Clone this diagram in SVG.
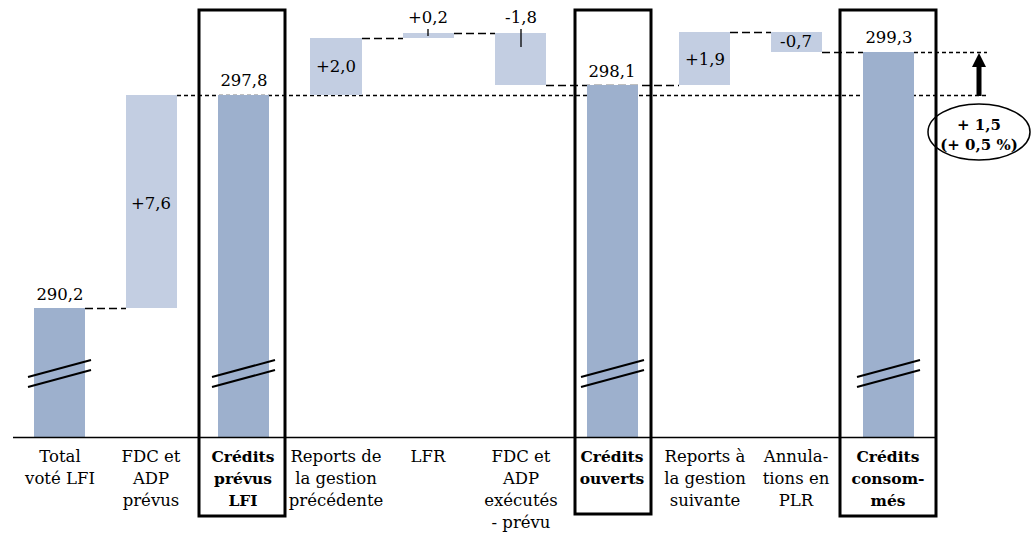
<svg xmlns="http://www.w3.org/2000/svg" width="1032" height="546" viewBox="0 0 1032 546" font-family="DejaVu Serif, serif">
<style>
.dark{fill:#9db0cd}
.light{fill:#c3cee2}
.box{fill:none;stroke:#000;stroke-width:3}
.conn{stroke:#000;stroke-width:1.3;stroke-dasharray:8 4;fill:none}
.ref{stroke:#000;stroke-width:1.3;stroke-dasharray:4 3;fill:none}
.tick{stroke:#000;stroke-width:1.3}
.brk{stroke:#000;stroke-width:2}
text{font-size:16.5px;fill:#000;text-anchor:middle}
.b{font-weight:bold;font-size:15.5px}
.sm{font-size:15px;font-weight:bold}
</style>
<rect width="1032" height="546" fill="#fff"/>
<g id="connectors">
<line class="ref" x1="177" y1="95.5" x2="987" y2="95.5"/>
<line class="ref" x1="914" y1="52.5" x2="987" y2="52.5"/>
<line class="conn" x1="85" y1="308.5" x2="126" y2="308.5"/>
<line class="conn" x1="362" y1="38.5" x2="403" y2="38.5"/>
<line class="conn" x1="454" y1="33.5" x2="495" y2="33.5"/>
<line class="conn" x1="546" y1="85.5" x2="679" y2="85.5"/>
<line class="conn" x1="730" y1="32.5" x2="771" y2="32.5"/>
<line class="conn" x1="822" y1="52.5" x2="863" y2="52.5"/>
<line x1="979" y1="96" x2="979" y2="64" stroke="#000" stroke-width="5"/>
<polygon points="979,53 972,67 986,67" fill="#000"/>
</g>
<g id="n1">
<rect class="dark" x="34" y="308" width="51" height="129"/>
<line class="brk" x1="28" y1="377" x2="91" y2="360"/>
<line class="brk" x1="28" y1="387" x2="91" y2="370"/>
<text x="60" y="300">290,2</text>
<text x="60" y="462">Total</text>
<text x="60" y="484">voté LFI</text>
</g>
<g id="n2">
<rect class="light" x="126" y="95" width="51" height="213"/>
<text x="151" y="209">+7,6</text>
<text x="151" y="462">FDC et</text>
<text x="151" y="484">ADP</text>
<text x="151" y="506">prévus</text>
</g>
<g id="n3">
<rect class="dark" x="218" y="95" width="51" height="342"/>
<line class="brk" x1="212" y1="377" x2="275" y2="360"/>
<line class="brk" x1="212" y1="387" x2="275" y2="370"/>
<text x="244" y="86">297,8</text>
<text class="b" x="243" y="462">Crédits</text>
<text class="b" x="243" y="484">prévus</text>
<text class="b" x="243" y="506">LFI</text>
<rect class="box" x="199" y="10" width="86" height="506"/>
</g>
<g id="n4">
<rect class="light" x="310" y="38" width="52" height="57"/>
<text x="336" y="72">+2,0</text>
<text x="336" y="462">Reports de</text>
<text x="336" y="484">la gestion</text>
<text x="336" y="506">précédente</text>
</g>
<g id="n5">
<rect class="light" x="403" y="33" width="51" height="5"/>
<line class="tick" x1="428" y1="29" x2="428" y2="36"/>
<text x="428" y="23">+0,2</text>
<text x="428" y="462">LFR</text>
</g>
<g id="n6">
<rect class="light" x="495" y="33" width="51" height="52"/>
<line class="tick" x1="521" y1="29" x2="521" y2="47"/>
<text x="521" y="23">-1,8</text>
<text x="521" y="462">FDC et</text>
<text x="521" y="484">ADP</text>
<text x="521" y="506">exécutés</text>
<text x="521" y="528">- prévu</text>
</g>
<g id="n7">
<rect class="dark" x="587" y="85" width="51" height="352"/>
<line class="brk" x1="581" y1="377" x2="644" y2="360"/>
<line class="brk" x1="581" y1="387" x2="644" y2="370"/>
<text x="612" y="77">298,1</text>
<text class="b" x="612" y="462">Crédits</text>
<text class="b" x="612" y="484">ouverts</text>
<rect class="box" x="575" y="10" width="76" height="504"/>
</g>
<g id="n8">
<rect class="light" x="679" y="32" width="51" height="53"/>
<text x="705" y="65">+1,9</text>
<text x="705" y="462">Reports à</text>
<text x="705" y="484">la gestion</text>
<text x="705" y="506">suivante</text>
</g>
<g id="n9">
<rect class="light" x="771" y="32" width="51" height="20"/>
<text x="796" y="47">-0,7</text>
<text x="796" y="462">Annula-</text>
<text x="796" y="484">tions en</text>
<text x="796" y="506">PLR</text>
</g>
<g id="n10">
<rect class="dark" x="863" y="52" width="51" height="385"/>
<line class="brk" x1="857" y1="377" x2="920" y2="360"/>
<line class="brk" x1="857" y1="387" x2="920" y2="370"/>
<text x="889" y="43">299,3</text>
<text class="b" x="888" y="462">Crédits</text>
<text class="b" x="888" y="484">consom-</text>
<text class="b" x="888" y="506">més</text>
<rect class="box" x="840" y="10" width="96" height="506"/>
</g>
<g id="axis">
<line x1="13" y1="437.5" x2="936" y2="437.5" stroke="#000" stroke-width="1.5"/>
</g>
<g id="delta">
<ellipse cx="979" cy="132" rx="51" ry="28" fill="none" stroke="#000" stroke-width="1.5"/>
<text class="sm" x="979" y="130">+ 1,5</text>
<text class="sm" x="979" y="150">(+ 0,5 %)</text>
</g>
</svg>
